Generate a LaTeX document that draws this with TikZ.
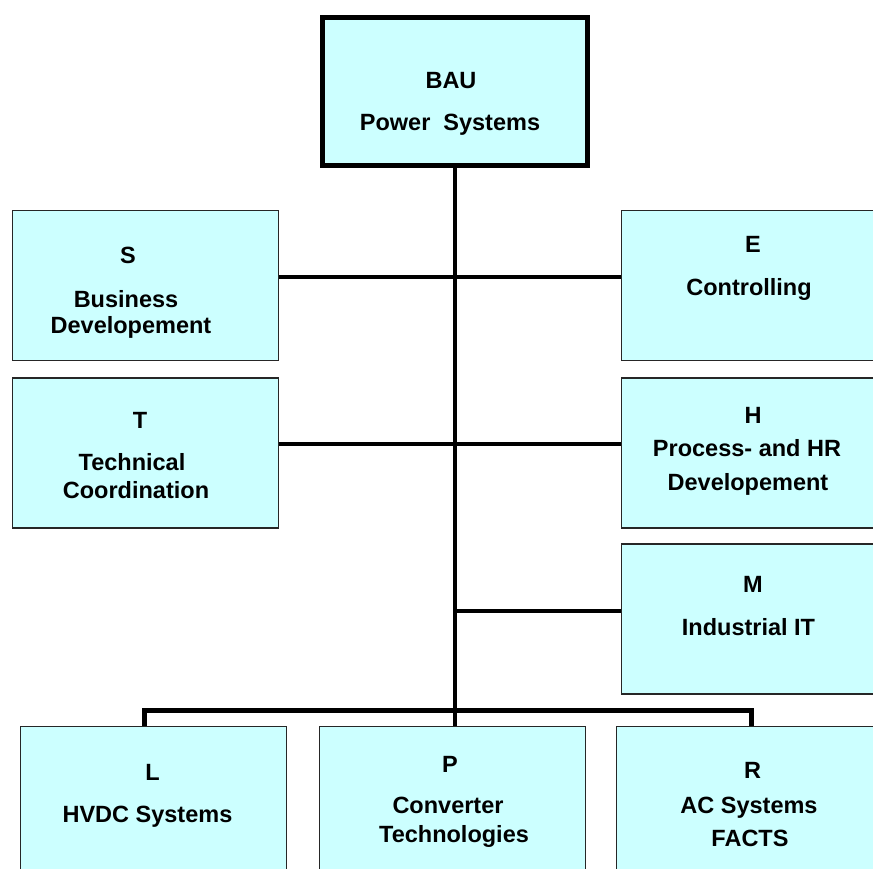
\documentclass[tikz,border=0pt]{standalone}
\usepackage{fontspec}
\setmainfont{Liberation Sans}
\begin{document}
\begin{tikzpicture}[x=1pt,y=-1pt,
  unit/.style={draw=black!85, line width=1.5pt, fill=boxfill,
    minimum width=266pt, minimum height=150pt, inner sep=0pt},
  head/.style={unit, draw=black, line width=5pt,
    minimum width=265pt, minimum height=148pt},
  txt/.style={anchor=base, inner sep=0pt,
    font=\fontsize{23.5}{28}\selectfont\bfseries},
  link/.style={draw=black, line width=4pt},
  bus/.style={draw=black, line width=5pt}]
\definecolor{boxfill}{RGB}{204,255,255}
\useasboundingbox (0,0) rectangle (873,869);
\clip (0,0) rectangle (873,869);

% organisation units
\node[head] (BAU) at (455,91.5) {};
\node[unit] (S) at (145.5,285.5) {};
\node[unit] (T) at (145.5,453) {};
\node[unit] (E) at (754.5,285.5) {};
\node[unit] (H) at (754.5,453) {};
\node[unit] (M) at (754.5,619) {};
\node[unit] (L) at (153.5,801.5) {};
\node[unit] (P) at (452.5,801.5) {};
\node[unit] (R) at (749.5,801.5) {};

% unit labels
\node[txt] (BAU1) at (451,89) {BAU};
\node[txt] (BAU2) at (450,131) {Power\ \ Systems};
\node[txt] (S1) at (128,263) {S};
\node[txt] (S2) at (126,307) {Business};
\node[txt] (S3) at (131,333) {Developement};
\node[txt] (T1) at (140,428) {T};
\node[txt] (T2) at (132,470) {Technical};
\node[txt] (T3) at (136,498) {Coordination};
\node[txt] (E1) at (753,253) {E};
\node[txt] (E2) at (749,295) {Controlling};
\node[txt] (H1) at (753,423) {H};
\node[txt] (H2) at (747,456) {Process- and HR};
\node[txt] (H3) at (748,490) {Developement};
\node[txt] (M1) at (753,592) {M};
\node[txt] (M2) at (748.5,635) {Industrial IT};
\node[txt] (L1) at (152.5,780) {L};
\node[txt] (L2) at (147.5,822) {HVDC Systems};
\node[txt] (P1) at (450,772) {P};
\node[txt] (P2) at (448,813) {Converter};
\node[txt] (P3) at (454,842) {Technologies};
\node[txt] (R1) at (752.5,778) {R};
\node[txt] (R2) at (749,813) {AC Systems};
\node[txt] (R3) at (750,846) {FACTS};

% reporting lines
\coordinate (ySE) at (0,277);
\coordinate (yTH) at (0,444);
\coordinate (jM) at (454,611);
\coordinate (busL) at (144,710);
\coordinate (busR) at (751,710);

\draw[link] (BAU.south) -- (BAU.south |- P.north);
\draw[link] (S.east |- ySE) -- (E.west |- ySE);
\draw[link] (T.east |- yTH) -- (H.west |- yTH);
\draw[link] (jM) -- (jM -| M.west);
\draw[bus] (busL |- L.north) -- (busL) -- (busR) -- (busR |- R.north);
\end{tikzpicture}
\end{document}
